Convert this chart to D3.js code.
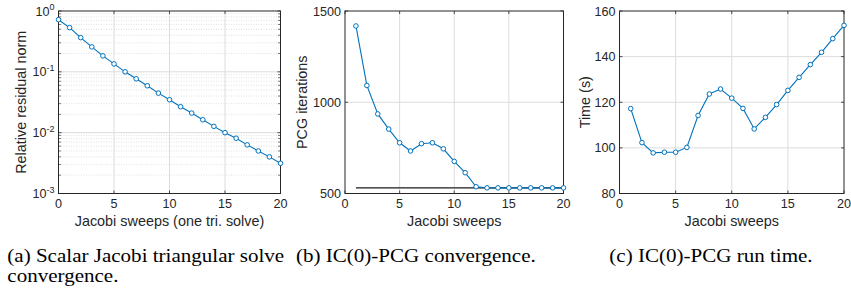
<!DOCTYPE html>
<html><head><meta charset="utf-8">
<script src="https://cdn.jsdelivr.net/npm/d3@7"></script>
<style>
body{margin:0;background:#fff;}
svg{display:block;}
</style></head>
<body>
<svg id="c" width="851" height="292"></svg>
<script>
// ---------- data ----------
const sweepsA = d3.range(0, 21);
const residual = [0.72,0.533,0.365,0.257,0.183,0.135,0.100,0.0768,0.059,0.0447,0.0348,0.0267,0.021,0.0163,0.0127,0.0100,0.0081,0.0063,0.0050,0.0040,0.00314];
const sweepsB = d3.range(1, 21);
const pcgIters = [1418,1092,936,853,778,733,773,778,745,676,614,537,531,531,531,531,531,531,531,531];
const baselineIters = 531;
const timeSec = [117.2,102.3,97.8,98.1,98.1,100.2,114.2,123.6,125.8,121.8,117.3,108.3,113.4,119.0,125.2,130.9,136.5,141.9,147.9,153.7];
const xTicks = [0,5,10,15,20];
const yTicksA = [1e-3,1e-2,1e-1,1];
const yTicksB = [500,1000,1500];
const yTicksC = [80,100,120,140,160];
const captions = [["(a) Scalar Jacobi triangular solve","convergence."],["(b) IC(0)-PCG convergence."],["(c) IC(0)-PCG run time."]];
const yTitles = ["Relative residual norm","PCG iterations","Time (s)"];
const xTitles = ["Jacobi sweeps (one tri. solve)","Jacobi sweeps","Jacobi sweeps"];

// ---------- drawing ----------
(function(){
const svg = d3.select("#c");
const blue = "#0072BD", axisCol = "#262626", gridCol = "#dcdcdc";
const sans = "'Liberation Sans', Arial, sans-serif";
const serif = "'Liberation Serif', 'Times New Roman', serif";
const tickFS = 12.6, titleFS = 14.4;
const pTop = 11, pBot = 193.5;
const panels = [
  {l:58.5, r:280.5, log:true, ys:yTicksA, dom:[1e-3,1], xs:sweepsA, vals:residual, capX:7.3, ytX:21},
  {l:345, r:563.5, log:false, ys:yTicksB, dom:[500,1500], xs:sweepsB, vals:pcgIters, capX:296, ytX:302, base:baselineIters},
  {l:619.5, r:844, log:false, ys:yTicksC, dom:[80,160], xs:sweepsB, vals:timeSec, capX:609.3, ytX:585}
];

panels.forEach((p,i)=>{
  const x = d3.scaleLinear().domain([0,20]).range([p.l,p.r]);
  const y = (p.log ? d3.scaleLog() : d3.scaleLinear()).domain(p.dom).range([pBot,pTop]);
  const g = svg.append("g");
  if(p.log){
    const minors=[];
    for(let e=-3;e<0;e++) for(let k=2;k<=9;k++) minors.push(k*Math.pow(10,e));
    g.selectAll(".mg").data(minors).join("line")
      .attr("x1",p.l).attr("x2",p.r).attr("y1",d=>y(d)).attr("y2",d=>y(d))
      .attr("stroke","#d4d4d4").attr("stroke-width",0.7).attr("stroke-dasharray","1,1.5");
    g.selectAll(".mt").data(minors).join("path")
      .attr("d",d=>`M${p.l},${y(d)}h2.5M${p.r},${y(d)}h-2.5`).attr("stroke",axisCol).attr("stroke-width",0.6);
  }
  g.selectAll(".gx").data(xTicks.slice(1,-1)).join("line")
    .attr("x1",d=>x(d)).attr("x2",d=>x(d)).attr("y1",pTop).attr("y2",pBot)
    .attr("stroke",gridCol).attr("stroke-width",1);
  g.selectAll(".gy").data(p.ys.slice(1,-1)).join("line")
    .attr("x1",p.l).attr("x2",p.r).attr("y1",d=>y(d)).attr("y2",d=>y(d))
    .attr("stroke",gridCol).attr("stroke-width",1);
  g.selectAll(".tx").data(xTicks).join("path")
    .attr("d",d=>`M${x(d)},${pBot}v-3M${x(d)},${pTop}v3`).attr("stroke",axisCol).attr("stroke-width",0.8);
  g.selectAll(".ty").data(p.ys).join("path")
    .attr("d",d=>`M${p.l},${y(d)}h3M${p.r},${y(d)}h-3`).attr("stroke",axisCol).attr("stroke-width",0.8);
  g.append("rect").attr("x",p.l).attr("y",pTop).attr("width",p.r-p.l).attr("height",pBot-pTop)
    .attr("fill","none").attr("stroke",axisCol).attr("stroke-width",1);
  g.selectAll(".lx").data(xTicks).join("text")
    .attr("x",d=>x(d)).attr("y",pBot+14.5).attr("text-anchor","middle")
    .attr("font-family",sans).attr("font-size",tickFS).attr("fill",axisCol).text(d=>d);
  if(p.log){
    const t = g.selectAll(".ly").data(p.ys).join("text")
      .attr("x",p.l-4).attr("y",d=>y(d)+4.5).attr("text-anchor","end")
      .attr("font-family",sans).attr("font-size",tickFS).attr("fill",axisCol);
    t.append("tspan").text("10");
    t.append("tspan").attr("dy",-5.5).attr("font-size",9).text(d=>Math.round(Math.log10(d)));
  } else {
    g.selectAll(".ly").data(p.ys).join("text")
      .attr("x",p.l-4).attr("y",d=>y(d)+4.5).attr("text-anchor","end")
      .attr("font-family",sans).attr("font-size",tickFS).attr("fill",axisCol).text(d=>d);
  }
  g.append("text").attr("x",(p.l+p.r)/2).attr("y",226).attr("text-anchor","middle")
    .attr("font-family",sans).attr("font-size",titleFS).attr("fill",axisCol).text(xTitles[i]);
  g.append("text").attr("transform",`translate(${p.ytX},${(pTop+pBot)/2}) rotate(-90)`)
    .attr("text-anchor","middle").attr("dy","0.35em")
    .attr("font-family",sans).attr("font-size",titleFS).attr("fill",axisCol).text(yTitles[i]);
  if(p.base!==undefined){
    g.append("line").attr("x1",x(1)).attr("x2",x(20)).attr("y1",y(p.base)).attr("y2",y(p.base))
      .attr("stroke","#1a1a1a").attr("stroke-width",1.1);
  }
  const pts = p.xs.map((d,k)=>[d,p.vals[k]]);
  g.append("path").datum(pts).attr("fill","none").attr("stroke",blue).attr("stroke-width",1.1)
    .attr("d",d3.line().x(d=>x(d[0])).y(d=>y(d[1])));
  g.selectAll(".pt").data(pts).join("circle")
    .attr("cx",d=>x(d[0])).attr("cy",d=>y(d[1])).attr("r",2.3)
    .attr("fill","#fff").attr("stroke",blue).attr("stroke-width",1);
  captions[i].forEach((line,j)=>{
    svg.append("text").attr("transform",`translate(${p.capX},${261.5+j*20}) scale(1.253,1.07)`)
      .attr("font-family",serif).attr("font-size",16.8).attr("fill","#000").text(line);
  });
});
})();
</script>
</body></html>
